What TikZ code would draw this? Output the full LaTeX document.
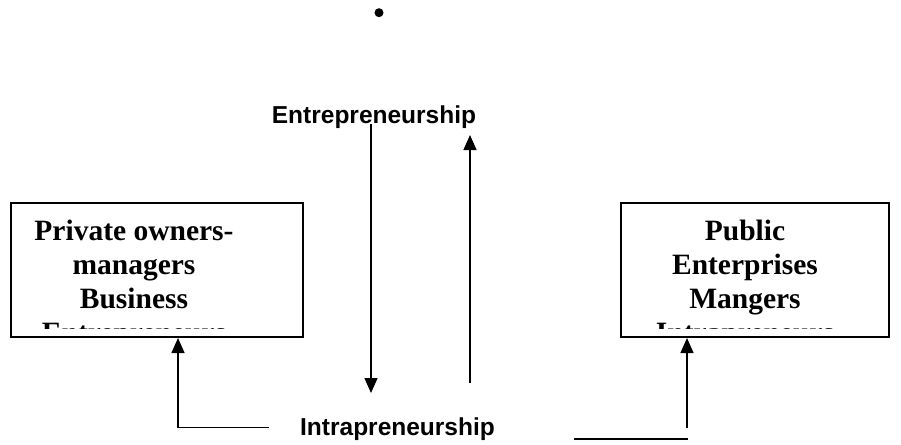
\documentclass[tikz,border=0pt]{standalone}
\usepackage{fontspec}
\setmainfont{Liberation Serif}
\newfontfamily\labelfont{Liberation Sans}
\usetikzlibrary{arrows.meta}
\begin{document}
\begin{tikzpicture}[x=1pt,y=-1pt,
  framebox/.style={draw, line width=2pt, inner sep=0pt},
  boxtext/.style={font=\bfseries\fontsize{29.5}{34}\selectfont, align=center, inner sep=0pt},
  flowlabel/.style={font=\labelfont\bfseries\fontsize{24.5}{28}\selectfont, inner sep=0pt},
  link/.style={line width=1.3pt},
  arr/.style={link, -{Triangle[width=13pt,length=15pt]}}]
\useasboundingbox (0,0) rectangle (901,444);

% bullet
\node[circle, fill, inner sep=0pt, minimum size=9pt] (dot) at (379,12.7) {};

% the two boxes
\node[framebox, minimum width=292pt, minimum height=134pt] (lbox) at (157,270) {};
\node[framebox, minimum width=268pt, minimum height=134pt] (rbox) at (755,270) {};

% box captions (base = baseline of the last line)
\node[boxtext, anchor=base] (ltext) at (134,308) {Private owners-\\managers\\Business};
\node[boxtext, anchor=base] (rtext) at (745,308) {Public\\Enterprises\\Mangers};

% fourth lines, cut off by the box margin
\begin{scope}
  \clip (12,204) rectangle (302,328);
  \node[boxtext, anchor=base] (lcut) at (134,342) {Entrepreneurs};
\end{scope}
\begin{scope}
  \clip (622,204) rectangle (888,328);
  \node[boxtext, anchor=base] (rcut) at (745,342) {Intrapreneurs};
\end{scope}

% labels
\node[flowlabel, anchor=base] (entre) at (374,123) {Entrepreneurship};
\node[flowlabel, anchor=base] (intra) at (397.5,435) {Intrapreneurship};

% vertical pair of arrows
\coordinate (downtop) at (371,124);
\coordinate (downend) at (371,393);
\coordinate (upfoot) at (470,383);
\coordinate (uptip) at (470,135);
\draw[arr] (downtop) -- (downend);
\draw[arr] (upfoot) -- (uptip);

% left feedback
\coordinate (lfoot) at (268.5,427.5);
\coordinate (lcorner) at (178,427.5);
\draw[arr] (lfoot) -- (lcorner) -- (lcorner |- lbox.south);

% right feedback
\coordinate (rfoot) at (687,428);
\draw[arr] (rfoot) -- (rfoot |- rbox.south);
\coordinate (rlineA) at (574,439);
\coordinate (rlineB) at (688,439);
\draw[link] (rlineA) -- (rlineB);
\end{tikzpicture}
\end{document}
